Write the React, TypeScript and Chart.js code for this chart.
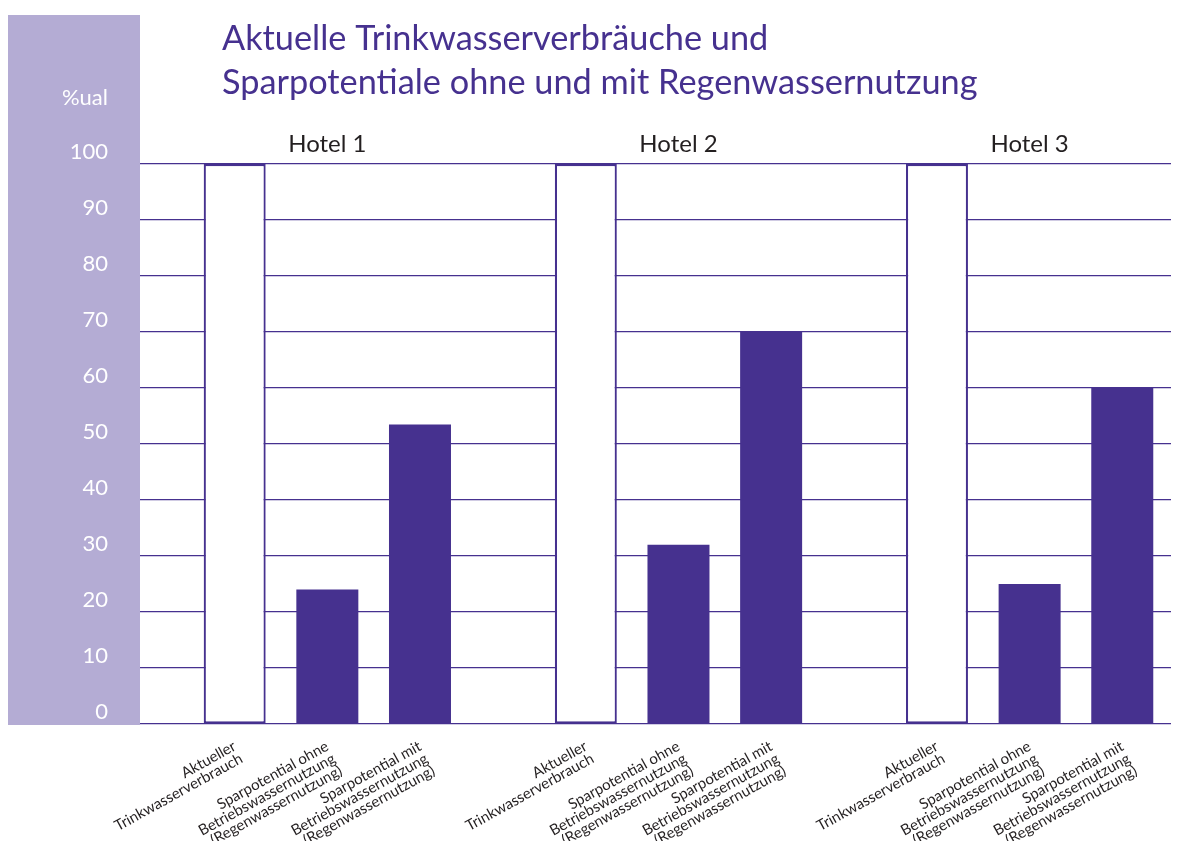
import React, { useEffect, useRef } from 'react';
import { Chart, registerables } from 'chart.js';

Chart.register(...registerables);

// ---- data ----
const titleLines = ['Aktuelle Trinkwasserverbräuche und', 'Sparpotentiale ohne und mit Regenwassernutzung'];
const yUnitLabel = '%ual';
const hotels = ['Hotel 1', 'Hotel 2', 'Hotel 3'];
const barTypes: string[][] = [
  ['Aktueller', 'Trinkwasserverbrauch'],
  ['Sparpotential ohne', 'Betriebswassernutzung', '(Regenwassernutzung)'],
  ['Sparpotential mit', 'Betriebswassernutzung', '(Regenwassernutzung)'],
];
const aktuellerVerbrauch = [100, 100, 100];
const sparOhne = [24, 32, 25];
const sparMit = [53.5, 70, 60];
const yTicks = [0, 10, 20, 30, 40, 50, 60, 70, 80, 90, 100];

// ---- layout constants ----
const W = 1164;
const H = 833;
const GROUP_STEP = 3.79; // distance between hotel groups in bar pitches
const X_MIN = -1.022;
const X_MAX = 10.106;
const PURPLE = '#46318f';
const PANEL = '#b4acd4';
const TEXT = '#231f20';
const FONT = 'Lato, "Open Sans", sans-serif';

const xPos = (h: number, b: number) => h * GROUP_STEP + b;
const tickPositions: number[] = [];
hotels.forEach((_, h) => barTypes.forEach((__, b) => tickPositions.push(xPos(h, b))));

const decorPlugin = {
  id: 'decor',
  beforeDraw(chart: any) {
    const { ctx, chartArea } = chart;
    ctx.save();
    ctx.fillStyle = PANEL;
    ctx.fillRect(0, 7, chartArea.left, chartArea.bottom + 1 - 7);
    ctx.restore();
  },
  afterDraw(chart: any) {
    const { ctx, chartArea, scales } = chart;
    ctx.save();
    // title
    ctx.fillStyle = PURPLE;
    ctx.font = `34.3px ${FONT}`;
    ctx.textAlign = 'left';
    ctx.textBaseline = 'alphabetic';
    titleLines.forEach((line, i) => ctx.fillText(line, chartArea.left + 82, 42 + i * 44));
    // unit label on panel
    ctx.fillStyle = '#ffffff';
    ctx.font = `22px ${FONT}`;
    ctx.textAlign = 'right';
    ctx.fillText(yUnitLabel, chartArea.left - 32, 97);
    // hotel labels
    ctx.fillStyle = TEXT;
    ctx.font = `24px ${FONT}`;
    ctx.textAlign = 'center';
    hotels.forEach((name, h) => {
      const px = scales.x.getPixelForValue(xPos(h, 1));
      ctx.fillText(name, px, 144);
    });
    ctx.restore();
  },
};

export default function App() {
  const ref = useRef<HTMLCanvasElement>(null);
  useEffect(() => {
    if (!ref.current) return;
    const mk = (vals: number[], b: number) => vals.map((v, h) => ({ x: xPos(h, b), y: v }));
    const chart = new Chart(ref.current, {
      type: 'bar',
      data: {
        datasets: [
          {
            label: 'Aktueller Trinkwasserverbrauch',
            data: mk(aktuellerVerbrauch, 0),
            backgroundColor: '#ffffff',
            borderColor: PURPLE,
            borderWidth: 2.2,
            borderSkipped: false,
          },
          {
            label: 'Sparpotential ohne Betriebswassernutzung',
            data: mk(sparOhne, 1),
            backgroundColor: PURPLE,
            borderWidth: 0,
          },
          {
            label: 'Sparpotential mit Betriebswassernutzung',
            data: mk(sparMit, 2),
            backgroundColor: PURPLE,
            borderWidth: 0,
          },
        ] as any,
      },
      options: {
        responsive: false,
        animation: false,
        grouped: false,
        barPercentage: 1,
        maxBarThickness: 62,
        layout: { padding: { top: 156, right: 1, left: 0, bottom: 0 } },
        plugins: { legend: { display: false }, tooltip: { enabled: false }, title: { display: false } },
        scales: {
          x: {
            type: 'linear',
            min: X_MIN,
            max: X_MAX,
            offset: false,
            grid: { display: false },
            border: { display: false },
            afterBuildTicks: (s: any) => {
              s.ticks = tickPositions.map((v) => ({ value: v }));
            },
            afterFit: (s: any) => {
              s.height = H - 716;
            },
            ticks: {
              autoSkip: false,
              minRotation: 29,
              maxRotation: 29,
              padding: 7,
              color: TEXT,
              font: { family: FONT, size: 15, lineHeight: '14px' },
              callback: (_v: any, i: number) => barTypes[i % barTypes.length],
            },
          },
          y: {
            min: 0,
            max: 100,
            afterBuildTicks: (s: any) => {
              s.ticks = yTicks.map((v) => ({ value: v }));
            },
            afterFit: (s: any) => {
              s.width = 132;
            },
            grid: { color: PURPLE, lineWidth: 1.2, drawTicks: false },
            border: { display: false },
            ticks: {
              color: '#ffffff',
              padding: 32,
              labelOffset: -12,
              font: { family: FONT, size: 22 },
            },
          },
        },
      } as any,
      plugins: [decorPlugin],
    });
    return () => chart.destroy();
  }, []);
  return (
    <div style={{ width: W, height: H }}>
      <canvas ref={ref} width={W} height={H} style={{ display: 'block' }} />
    </div>
  );
}
